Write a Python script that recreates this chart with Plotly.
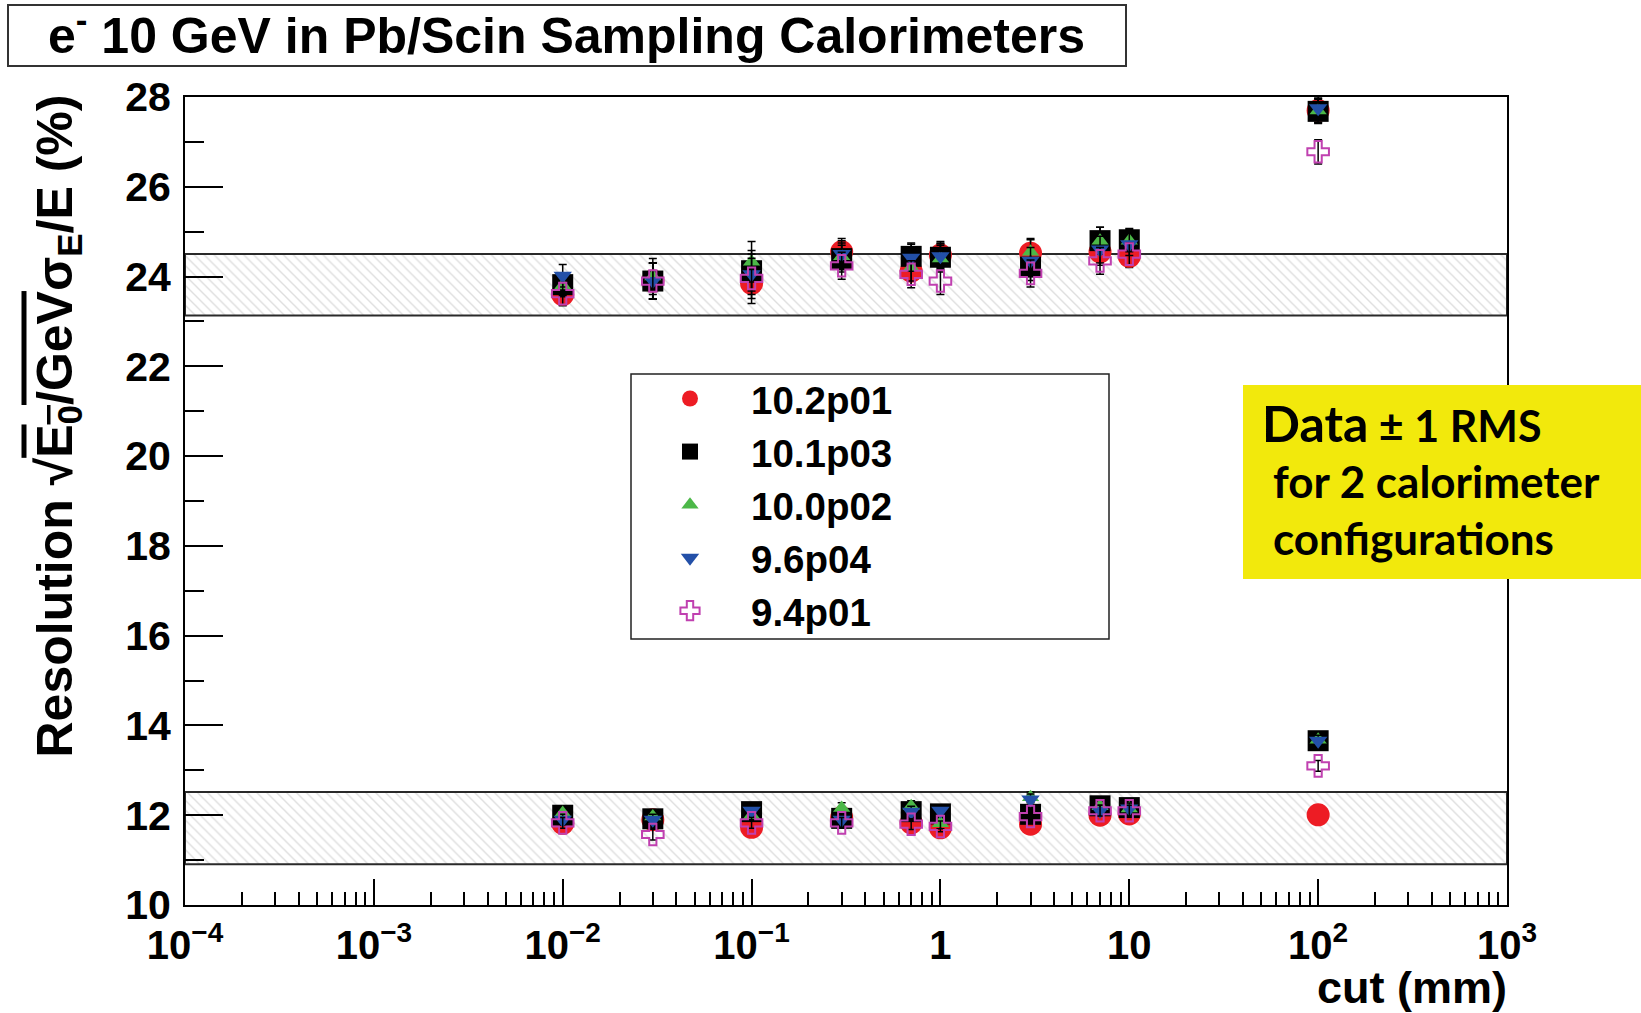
import plotly.graph_objects as go

# ---- data ----
cuts = [0.01, 0.03, 0.1, 0.3, 0.7, 1, 3, 7, 10, 100]

series_names = ["10.2p01", "10.1p03", "10.0p02", "9.6p04", "9.4p01"]

# upper cluster (one calorimeter configuration)
res_hi_102p01 = [23.60, 23.90, 23.85, 24.55, 24.12, 24.48, 24.52, 24.55, 24.45, 27.70]
res_hi_101p03 = [23.82, 23.90, 24.13, 24.40, 24.45, 24.43, 24.21, 24.80, 24.82, 27.68]
res_hi_100p02 = [23.80, 24.00, 24.33, 24.45, 24.20, 24.40, 24.55, 24.80, 24.80, 27.70]
res_hi_96p04 = [24.02, 23.90, 24.05, 24.50, 24.42, 24.45, 24.35, 24.60, 24.72, 27.75]
res_hi_94p01 = [23.62, 23.90, 23.96, 24.24, 24.05, 23.90, 24.07, 24.35, 24.50, 26.78]

# lower cluster (second calorimeter configuration)
res_lo_102p01 = [11.82, 11.90, 11.73, 11.95, 11.83, 11.72, 11.80, 12.00, 12.03, 12.01]
res_lo_101p03 = [12.00, 11.92, 12.08, 11.93, 12.08, 12.03, 12.02, 12.21, 12.17, 13.66]
res_lo_100p02 = [12.05, 11.97, 12.00, 12.16, 12.20, 11.82, 12.40, 12.20, 12.15, 13.68]
res_lo_96p04 = [11.90, 11.90, 12.10, 11.90, 12.08, 12.10, 12.35, 12.10, 12.15, 13.66]
res_lo_94p01 = [11.83, 11.57, 11.83, 11.83, 11.80, 11.75, 11.97, 12.10, 12.10, 13.10]

err_hi = [0.25, 0.40, 0.45, 0.30, 0.30, 0.30, 0.30, 0.30, 0.25, 0.27]
err_lo = [0.12, 0.12, 0.12, 0.12, 0.12, 0.12, 0.12, 0.12, 0.12, 0.12]

# data bands (mean +- 1 RMS)
band_hi = [23.13, 24.50]
band_lo = [10.91, 12.52]
band_x = [1e-4, 1e3]

x_ticks = [1e-4, 1e-3, 1e-2, 1e-1, 1, 10, 100, 1000]
x_ticktext = ["10<sup>−4</sup>", "10<sup>−3</sup>", "10<sup>−2</sup>", "10<sup>−1</sup>",
              "1", "10", "10<sup>2</sup>", "10<sup>3</sup>"]

# ---- styles ----
styles = [
    dict(symbol="circle", size=23, color="#ed1c24", line=dict(width=0)),
    dict(symbol="square", size=21, color="#000000", line=dict(width=0)),
    dict(symbol="triangle-up", size=15, color="#4cb848", line=dict(width=0)),
    dict(symbol="triangle-down", size=16, color="#2350a8", line=dict(width=0)),
    dict(symbol="cross-open", size=18, color="#c040b0", line=dict(width=2, color="#c040b0")),
]
hi_list = [res_hi_102p01, res_hi_101p03, res_hi_100p02, res_hi_96p04, res_hi_94p01]
lo_list = [res_lo_102p01, res_lo_101p03, res_lo_100p02, res_lo_96p04, res_lo_94p01]

FONT = "Liberation Sans"
fig = go.Figure()

for lo, hi in (band_hi, band_lo):
    fig.add_trace(go.Scatter(
        x=[band_x[0], band_x[1], band_x[1], band_x[0], band_x[0]],
        y=[lo, lo, hi, hi, lo],
        mode="lines", fill="toself",
        fillcolor="white",
        fillpattern=dict(shape="\\", fgcolor="#bdbdbd", bgcolor="white", size=7, solidity=0.2),
        line=dict(color="#2a2a2a", width=2),
        showlegend=False, hoverinfo="skip"))

for name, st, hi, lo in zip(series_names, styles, hi_list, lo_list):
    fig.add_trace(go.Scatter(
        x=cuts + cuts, y=hi + lo, mode="markers", name=name,
        marker=st,
        error_y=dict(type="data", array=err_hi + err_lo, color="black", thickness=1.5, width=4),
    ))

W, H = 1641, 1013
L, R, T, B = 185, 134, 97, 108
pw, ph = W - L - R, H - T - B


def px(xp):
    return (xp - L) / pw


def py(yp):
    return (H - B - yp) / ph


fig.update_layout(
    width=W, height=H, autosize=False,
    margin=dict(l=L, r=R, t=T, b=B),
    paper_bgcolor="white", plot_bgcolor="white",
    font=dict(family=FONT, color="black"),
    showlegend=True,
    legend=dict(x=px(629), y=py(367), xanchor="left", yanchor="top",
                bgcolor="rgba(0,0,0,0)", borderwidth=0, itemwidth=112,
                font=dict(family=FONT, size=38.5, color="black", weight="bold")),
    xaxis=dict(type="log", range=[-4, 3], tickvals=x_ticks, ticktext=x_ticktext,
               ticks="inside", ticklen=26, tickwidth=1.5, tickcolor="black",
               minor=dict(ticks="inside", ticklen=13, tickwidth=1.5, tickcolor="black", dtick="D1", showgrid=False),
               showline=True, linecolor="black", linewidth=2, mirror=True,
               showgrid=False, zeroline=False, ticklabelstandoff=4,
               tickfont=dict(family=FONT, size=40, color="black", weight="bold")),
    yaxis=dict(range=[10, 28], dtick=2, tick0=10,
               ticks="inside", ticklen=38, tickwidth=1.5, tickcolor="black",
               minor=dict(ticks="inside", ticklen=19, tickwidth=1.5, tickcolor="black", dtick=1, showgrid=False),
               showline=True, linecolor="black", linewidth=2, mirror=True,
               showgrid=False, zeroline=False, ticklabelstandoff=4,
               tickfont=dict(family=FONT, size=41, color="black", weight="bold")),
)

shapes = [
    # title box
    dict(type="rect", xref="paper", yref="paper", x0=px(8), x1=px(1126), y0=py(66), y1=py(5),
         line=dict(color="#333333", width=2), fillcolor="rgba(0,0,0,0)", layer="above"),
    # legend box
    dict(type="rect", xref="paper", yref="paper", x0=px(631), x1=px(1109), y0=py(639), y1=py(374),
         line=dict(color="#222222", width=1.5), fillcolor="rgba(0,0,0,0)", layer="above"),
    # yellow box
    dict(type="rect", xref="paper", yref="paper", x0=px(1243), x1=px(1645), y0=py(579), y1=py(385),
         line=dict(width=0), fillcolor="#f2e90c", layer="above"),
]
fig.update_layout(shapes=shapes)

ann = [
    dict(text="e<sup>-</sup> 10 GeV in Pb/Scin Sampling Calorimeters", x=px(566), y=py(32),
         xanchor="center", yanchor="middle",
         font=dict(family=FONT, size=50, color="black", weight="bold")),
    dict(text="Resolution √<span style='text-decoration:overline'>E<sub>0</sub>/GeV</span>σ<sub>E</sub>/E (%)",
         x=px(58), y=py(93), xanchor="center", yanchor="top", textangle=-90,
         font=dict(family=FONT, size=50, color="black", weight="bold")),
    dict(text="cut (mm)", x=px(1509), y=py(987), xanchor="right", yanchor="middle",
         font=dict(family=FONT, size=45, color="black", weight="bold")),
    dict(text="<span style='font-size:50px'>Data</span> ± 1 RMS", x=px(1260), y=py(423),
         xanchor="left", yanchor="middle", align="left",
         font=dict(family="Lato", size=43, color="black", weight="bold")),
    dict(text="for 2 calorimeter", x=px(1271), y=py(481),
         xanchor="left", yanchor="middle", align="left",
         font=dict(family="Lato", size=44, color="black", weight="bold")),
    dict(text="configurations", x=px(1271), y=py(538),
         xanchor="left", yanchor="middle", align="left",
         font=dict(family="Lato", size=44, color="black", weight="bold")),
    dict(text="Using standard Geant4 EM", x=px(26), y=py(1040),
         xanchor="left", yanchor="middle", align="left",
         font=dict(family=FONT, size=44, color="black", weight="bold")),
]
for a in ann:
    a.setdefault("xref", "paper")
    a.setdefault("yref", "paper")
    a["showarrow"] = False
fig.update_layout(annotations=ann)

fig.write_html("out.html")
